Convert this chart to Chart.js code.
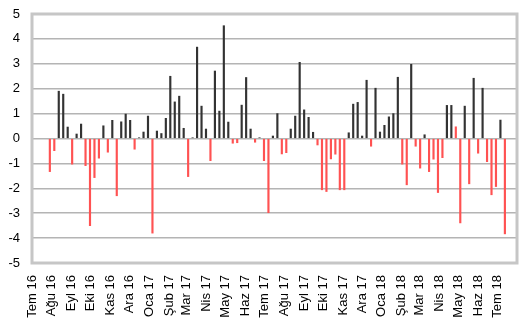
<!DOCTYPE html>
<html>
<head>
<meta charset="utf-8">
<script src="https://cdn.jsdelivr.net/npm/chart.js@4.4.1/dist/chart.umd.min.js"></script>
<style>
  html, body { margin: 0; padding: 0; background: #fff; }
  #chart { display: block; }
</style>
</head>
<body>
<canvas id="chart" width="530" height="325"></canvas>
<script>
// Weekly values, first week ends 29 Jul 2016
const firstWeek = [2016, 6, 29];

// Month tick labels (axis starts at Tem 16)
const monthLabels = ['Tem 16', 'Ağu 16', 'Eyl 16', 'Eki 16', 'Kas 16', 'Ara 16',
    'Oca 17', 'Şub 17', 'Mar 17', 'Nis 17', 'May 17', 'Haz 17',
    'Tem 17', 'Ağu 17', 'Eyl 17', 'Eki 17', 'Kas 17', 'Ara 17',
    'Oca 18', 'Şub 18', 'Mar 18', 'Nis 18', 'May 18', 'Haz 18', 'Tem 18'];

// Black series
const blackBars = [
    null, null, 1.90, 1.78, 0.46, null, 0.18, 0.58, null, null,
    null, null, 0.51, null, 0.73, null, 0.67, 0.98, 0.73, null,
    0.03, 0.26, 0.90, null, 0.30, 0.20, 0.81, 2.50, 1.47, 1.70,
    0.41, null, 0.03, 3.67, 1.30, 0.38, null, 2.71, 1.10, 4.53,
    0.66, null, null, 1.34, 2.45, 0.38, null, 0.03, null, null,
    0.10, 1.00, null, null, 0.38, 0.90, 3.06, 1.15, 0.85, 0.25,
    null, null, null, null, null, null, null, 0.23, 1.38, 1.45,
    0.10, 2.34, null, 2.02, 0.26, 0.53, 0.87, 1.00, 2.46, null,
    null, 2.98, null, null, 0.15, null, null, null, null, 1.33,
    1.33, null, null, 1.30, null, 2.42, null, 2.02, null, null,
    null, 0.74, null
];

// Red series
const redBars = [
    -1.33, -0.49, null, null, null, -1.03, null, null, -1.09, -3.50,
    -1.57, -0.79, null, -0.55, null, -2.30, null, null, null, -0.43,
    null, null, null, -3.80, null, null, null, null, null, null,
    null, -1.53, null, null, null, null, -0.89, null, null, null,
    null, -0.19, -0.17, null, null, null, -0.15, null, -0.89, -2.98,
    null, null, -0.62, -0.57, null, null, null, null, null, null,
    -0.26, -2.06, -2.13, -0.82, -0.63, -2.06, -2.06, null, null, null,
    null, null, -0.31, null, null, null, null, null, null, -1.03,
    -1.86, null, -0.31, -1.19, null, -1.33, -0.83, -2.17, -0.77, null,
    null, 0.47, -3.39, null, -1.82, null, -0.59, null, -0.93, -2.26,
    -1.93, null, -3.83
];

const yTicks = [-5, -4, -3, -2, -1, 0, 1, 2, 3, 4, 5];

// Day offsets from 1 Jul 2016
const DAY = 86400000;
const axisStart = Date.UTC(2016, 6, 1);
const weekZero = (Date.UTC(firstWeek[0], firstWeek[1], firstWeek[2]) - axisStart) / DAY;
const monthDays = monthLabels.map((_, k) => (Date.UTC(2016, 6 + k, 1) - axisStart) / DAY);
const axisEnd = (Date.UTC(2016, 6 + monthLabels.length, 1) - axisStart) / DAY;

function toPoints(arr) {
    const pts = [];
    arr.forEach((v, i) => {
        if (v !== null) pts.push({x: weekZero + i * 7, y: v});
    });
    return pts;
}

// Light grey frame round the plot area
const plotBorder = {
    id: 'plotBorder',
    afterDraw(chart) {
        const a = chart.chartArea;
        const c = chart.ctx;
        c.save();
        c.strokeStyle = '#c6c6c6';
        c.lineWidth = 3;
        c.strokeRect(a.left, a.top, a.right - a.left, a.bottom - a.top);
        c.restore();
    }
};

new Chart(document.getElementById('chart'), {
    type: 'bar',
    data: {
        datasets: [{
            data: toPoints(blackBars),
            backgroundColor: '#333333',
            barThickness: 1.5,
            grouped: false
        }, {
            data: toPoints(redBars),
            backgroundColor: '#ff5252',
            barThickness: 1.5,
            grouped: false
        }]
    },
    options: {
        responsive: false,
        animation: false,
        layout: {padding: {top: 14, right: 13, left: 0, bottom: 0}},
        plugins: {legend: {display: false}, tooltip: {enabled: false}},
        scales: {
            x: {
                type: 'linear',
                offset: false,
                min: 0,
                max: axisEnd,
                grid: {display: false},
                border: {display: false},
                afterBuildTicks: axis => { axis.ticks = monthDays.map(v => ({value: v})); },
                afterFit: s => { s.height = 62; s.paddingLeft = 0; s.paddingRight = 0; },
                ticks: {
                    autoSkip: false,
                    minRotation: 90,
                    maxRotation: 90,
                    padding: 4,
                    color: '#000',
                    font: {family: '"Liberation Sans", Arial, sans-serif', size: 13},
                    callback: (v, i) => monthLabels[i]
                }
            },
            y: {
                min: -5,
                max: 5,
                afterBuildTicks: axis => { axis.ticks = yTicks.map(v => ({value: v})); },
                // tick padding would otherwise be added above and below the axis
                afterFit: s => { s.width = 32; s.paddingTop = 0; s.paddingBottom = 0; },
                grid: {color: '#b4b4b4', lineWidth: 1.5, drawTicks: false},
                border: {display: false},
                ticks: {
                    padding: 12,
                    color: '#000',
                    font: {family: '"Liberation Sans", Arial, sans-serif', size: 13}
                }
            }
        }
    },
    plugins: [plotBorder]
});
</script>
</body>
</html>
